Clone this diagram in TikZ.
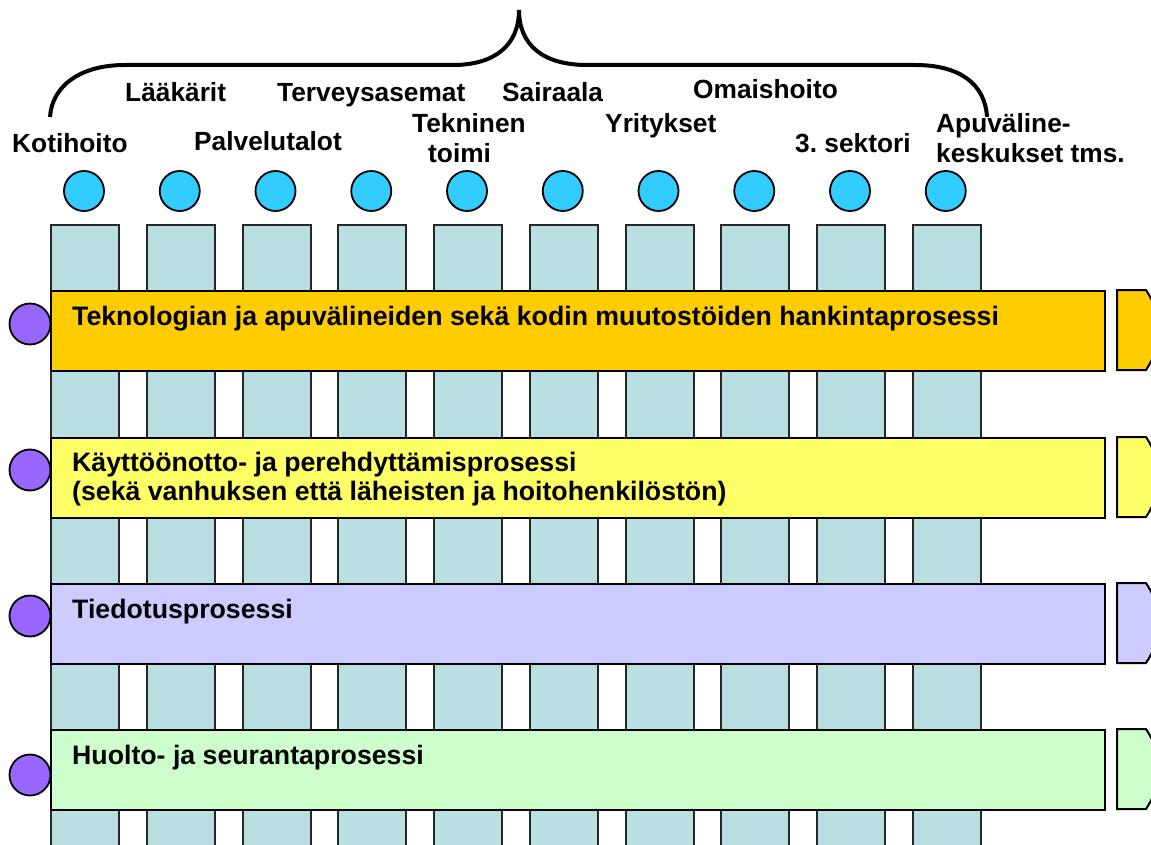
\documentclass[tikz,border=0pt]{standalone}
\usepackage{fontspec}
\setmainfont{Liberation Sans}
\frenchspacing
\definecolor{colfill}{RGB}{185,223,227}
\definecolor{unitblue}{RGB}{51,204,255}
\definecolor{procviolet}{RGB}{153,102,255}
\definecolor{barorange}{RGB}{255,204,0}
\definecolor{baryellow}{RGB}{255,255,102}
\definecolor{barlilac}{RGB}{204,204,255}
\definecolor{barmint}{RGB}{204,255,204}

\begin{document}
\begin{tikzpicture}[x=1pt,y=-1pt,
  column/.style={draw=black!85, line width=2pt, fill=colfill, inner sep=0pt,
    anchor=north west, minimum width=68pt, minimum height=640pt},
  unitdot/.style={circle, draw=black, line width=1.8pt, fill=unitblue,
    inner sep=0pt, minimum size=40pt},
  procdot/.style={circle, draw=black, line width=1.8pt, fill=procviolet,
    inner sep=0pt, minimum size=41pt},
  bar/.style={draw=black, line width=2pt, inner sep=0pt, anchor=north west,
    minimum width=1054pt, minimum height=80pt},
  barcap/.style={draw=black, line width=2pt},
  lbl/.style={font=\fontsize{26.3}{29.5}\selectfont\bfseries, inner sep=0pt,
    anchor=base west},
  barlbl/.style={lbl, font=\fontsize{26.7}{29.5}\selectfont\bfseries},
  brace/.style={draw=black, line width=4pt}
]
\clip (0,0) rectangle (1151,845);
\fill[white] (0,0) rectangle (1151,845);

% organisation columns and their markers
\foreach \i in {0,...,9} {
  \node[column] (col\i) at ({50+95.75*\i},224) {};
  \node[unitdot] (unit\i) at ({84+95.75*\i},191) {};
}

% process bars
\node[bar, fill=barorange] (bar1) at (50,290) {};
\node[bar, fill=baryellow] (bar2) at (50,437) {};
\node[bar, fill=barlilac]  (bar3) at (50,583) {};
\node[bar, fill=barmint]   (bar4) at (50,729) {};

% continuation caps at the right edge
\foreach \t/\c in {290/barorange, 437/baryellow, 583/barlilac, 729/barmint} {
  \draw[barcap, fill=\c] (1117,\t) -- (1146,\t)
    .. controls (1154,\t+12) and (1160,\t+28) .. (1160,\t+40)
    .. controls (1160,\t+52) and (1154,\t+68) .. (1146,\t+80)
    -- (1117,\t+80) -- cycle;
}

% process markers
\node[procdot] (p1) at (30,324) {};
\node[procdot] (p2) at (30,470) {};
\node[procdot] (p3) at (30,616) {};
\node[procdot] (p4) at (30,775) {};

% process names
\node[barlbl] (t1) at (72,325) {Teknologian ja apuvälineiden sekä kodin muutostöiden hankintaprosessi};
\node[barlbl] (t2) at (72,471) {\vtop{\hbox{Käyttöönotto- ja perehdyttämisprosessi}\hbox{(sekä vanhuksen että läheisten ja hoitohenkilöstön)}}};
\node[barlbl] (t3) at (72,618) {Tiedotusprosessi};
\node[barlbl] (t4) at (72,764) {Huolto- ja seurantaprosessi};

% organisation names
\node[lbl] (n1)  at (12,153)  {Kotihoito};
\node[lbl] (n2)  at (125,102) {Lääkärit};
\node[lbl] (n3)  at (194,151) {Palvelutalot};
\node[lbl] (n4)  at (277,102) {Terveysasemat};
\node[lbl] (n5)  at (412,133) {\vtop{\hbox{Tekninen}\hbox{\kern16pt toimi}}};
\node[lbl] (n6)  at (502,102) {Sairaala};
\node[lbl] (n7)  at (605,133) {Yritykset};
\node[lbl] (n8)  at (693,99)  {Omaishoito};
\node[lbl] (n9)  at (795,153) {3. sektori};
\node[lbl] (n10) at (936,133) {\vtop{\hbox{Apuväline-}\hbox{keskukset tms.}}};

% curly brace grouping all organisations
\draw[brace] (50,117) .. controls (52,86) and (80,65) .. (125,65)
  -- (453,65) .. controls (495,65) and (519,45) .. (519,10)
  .. controls (519,45) and (543,65) .. (587,65)
  -- (915,65) .. controls (960,65) and (985,84) .. (987,117);
\end{tikzpicture}
\end{document}
